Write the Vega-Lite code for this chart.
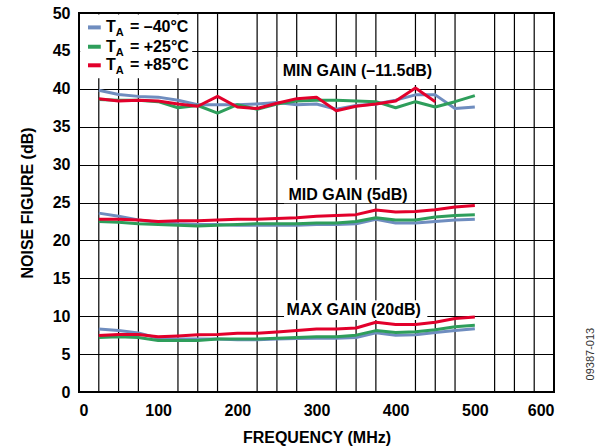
{
  "$schema": "https://vega.github.io/schema/vega-lite/v6.json",
  "width": 475,
  "height": 379,
  "autosize": {"type": "none"},
  "padding": {"left": 79, "top": 13, "right": 51, "bottom": 56},
  "background": "#ffffff",
  "config": {
    "font": "Liberation Sans",
    "view": {"stroke": "#000000", "strokeWidth": 2},
    "axis": {
      "labelFont": "Liberation Sans",
      "labelFontWeight": "bold",
      "labelFontSize": 16,
      "labelColor": "#000000",
      "titleFont": "Liberation Sans",
      "titleFontWeight": "bold",
      "titleFontSize": 16,
      "titleColor": "#000000",
      "gridColor": "#000000",
      "gridWidth": 1.2,
      "gridOpacity": 1,
      "domain": false,
      "ticks": false
    },
    "text": {"font": "Liberation Sans", "fontWeight": "bold", "fontSize": 16, "color": "#000000", "baseline": "middle"}
  },
  "resolve": {"axis": {"x": "independent", "y": "independent"}},
  "datasets": {
    "gridlines": [
      {"f": 25}, {"f": 50}, {"f": 75}, {"f": 125}, {"f": 150}, {"f": 175},
      {"f": 225}, {"f": 250}, {"f": 275}, {"f": 325}, {"f": 350}, {"f": 375},
      {"f": 425}, {"f": 450}, {"f": 475}, {"f": 525}, {"f": 550}, {"f": 575}
    ],
    "nf": [
      {"gain": "min", "temp": "-40", "f": 25, "nf": 39.8},
      {"gain": "min", "temp": "-40", "f": 50, "nf": 39.25},
      {"gain": "min", "temp": "-40", "f": 75, "nf": 39.0},
      {"gain": "min", "temp": "-40", "f": 100, "nf": 38.9},
      {"gain": "min", "temp": "-40", "f": 125, "nf": 38.5},
      {"gain": "min", "temp": "-40", "f": 150, "nf": 37.9},
      {"gain": "min", "temp": "-40", "f": 175, "nf": 37.9},
      {"gain": "min", "temp": "-40", "f": 200, "nf": 37.9},
      {"gain": "min", "temp": "-40", "f": 225, "nf": 38.0},
      {"gain": "min", "temp": "-40", "f": 250, "nf": 38.2},
      {"gain": "min", "temp": "-40", "f": 275, "nf": 37.9},
      {"gain": "min", "temp": "-40", "f": 300, "nf": 38.0},
      {"gain": "min", "temp": "-40", "f": 325, "nf": 37.3},
      {"gain": "min", "temp": "-40", "f": 350, "nf": 37.8},
      {"gain": "min", "temp": "-40", "f": 375, "nf": 38.0},
      {"gain": "min", "temp": "-40", "f": 400, "nf": 38.5},
      {"gain": "min", "temp": "-40", "f": 425, "nf": 39.2},
      {"gain": "min", "temp": "-40", "f": 450, "nf": 39.2},
      {"gain": "min", "temp": "-40", "f": 475, "nf": 37.4},
      {"gain": "min", "temp": "-40", "f": 500, "nf": 37.6},

      {"gain": "min", "temp": "+25", "f": 25, "nf": 38.6},
      {"gain": "min", "temp": "+25", "f": 50, "nf": 38.5},
      {"gain": "min", "temp": "+25", "f": 75, "nf": 38.5},
      {"gain": "min", "temp": "+25", "f": 100, "nf": 38.3},
      {"gain": "min", "temp": "+25", "f": 125, "nf": 37.5},
      {"gain": "min", "temp": "+25", "f": 150, "nf": 37.8},
      {"gain": "min", "temp": "+25", "f": 175, "nf": 36.8},
      {"gain": "min", "temp": "+25", "f": 200, "nf": 37.9},
      {"gain": "min", "temp": "+25", "f": 225, "nf": 37.3},
      {"gain": "min", "temp": "+25", "f": 250, "nf": 38.0},
      {"gain": "min", "temp": "+25", "f": 275, "nf": 38.4},
      {"gain": "min", "temp": "+25", "f": 300, "nf": 38.5},
      {"gain": "min", "temp": "+25", "f": 325, "nf": 38.5},
      {"gain": "min", "temp": "+25", "f": 350, "nf": 38.4},
      {"gain": "min", "temp": "+25", "f": 375, "nf": 38.3},
      {"gain": "min", "temp": "+25", "f": 400, "nf": 37.5},
      {"gain": "min", "temp": "+25", "f": 425, "nf": 38.3},
      {"gain": "min", "temp": "+25", "f": 450, "nf": 37.6},
      {"gain": "min", "temp": "+25", "f": 475, "nf": 38.3},
      {"gain": "min", "temp": "+25", "f": 500, "nf": 39.1},

      {"gain": "min", "temp": "+85", "f": 25, "nf": 38.7},
      {"gain": "min", "temp": "+85", "f": 50, "nf": 38.4},
      {"gain": "min", "temp": "+85", "f": 75, "nf": 38.5},
      {"gain": "min", "temp": "+85", "f": 100, "nf": 38.4},
      {"gain": "min", "temp": "+85", "f": 125, "nf": 38.0},
      {"gain": "min", "temp": "+85", "f": 150, "nf": 37.7},
      {"gain": "min", "temp": "+85", "f": 175, "nf": 39.0},
      {"gain": "min", "temp": "+85", "f": 200, "nf": 37.6},
      {"gain": "min", "temp": "+85", "f": 225, "nf": 37.4},
      {"gain": "min", "temp": "+85", "f": 250, "nf": 38.1},
      {"gain": "min", "temp": "+85", "f": 275, "nf": 38.7},
      {"gain": "min", "temp": "+85", "f": 300, "nf": 38.9},
      {"gain": "min", "temp": "+85", "f": 325, "nf": 37.1},
      {"gain": "min", "temp": "+85", "f": 350, "nf": 37.7},
      {"gain": "min", "temp": "+85", "f": 375, "nf": 38.0},
      {"gain": "min", "temp": "+85", "f": 400, "nf": 38.4},
      {"gain": "min", "temp": "+85", "f": 425, "nf": 40.1},
      {"gain": "min", "temp": "+85", "f": 450, "nf": 38.3},

      {"gain": "mid", "temp": "-40", "f": 25, "nf": 23.6},
      {"gain": "mid", "temp": "-40", "f": 50, "nf": 23.2},
      {"gain": "mid", "temp": "-40", "f": 75, "nf": 22.7},
      {"gain": "mid", "temp": "-40", "f": 100, "nf": 22.4},
      {"gain": "mid", "temp": "-40", "f": 125, "nf": 22.2},
      {"gain": "mid", "temp": "-40", "f": 150, "nf": 22.1},
      {"gain": "mid", "temp": "-40", "f": 175, "nf": 22.1},
      {"gain": "mid", "temp": "-40", "f": 200, "nf": 22.0},
      {"gain": "mid", "temp": "-40", "f": 225, "nf": 22.0},
      {"gain": "mid", "temp": "-40", "f": 250, "nf": 22.0},
      {"gain": "mid", "temp": "-40", "f": 275, "nf": 22.0},
      {"gain": "mid", "temp": "-40", "f": 300, "nf": 22.1},
      {"gain": "mid", "temp": "-40", "f": 325, "nf": 22.1},
      {"gain": "mid", "temp": "-40", "f": 350, "nf": 22.2},
      {"gain": "mid", "temp": "-40", "f": 375, "nf": 22.8},
      {"gain": "mid", "temp": "-40", "f": 400, "nf": 22.3},
      {"gain": "mid", "temp": "-40", "f": 425, "nf": 22.3},
      {"gain": "mid", "temp": "-40", "f": 450, "nf": 22.5},
      {"gain": "mid", "temp": "-40", "f": 475, "nf": 22.7},
      {"gain": "mid", "temp": "-40", "f": 500, "nf": 22.8},

      {"gain": "mid", "temp": "+25", "f": 25, "nf": 22.5},
      {"gain": "mid", "temp": "+25", "f": 50, "nf": 22.4},
      {"gain": "mid", "temp": "+25", "f": 75, "nf": 22.2},
      {"gain": "mid", "temp": "+25", "f": 100, "nf": 22.1},
      {"gain": "mid", "temp": "+25", "f": 125, "nf": 22.0},
      {"gain": "mid", "temp": "+25", "f": 150, "nf": 21.9},
      {"gain": "mid", "temp": "+25", "f": 175, "nf": 22.0},
      {"gain": "mid", "temp": "+25", "f": 200, "nf": 22.1},
      {"gain": "mid", "temp": "+25", "f": 225, "nf": 22.2},
      {"gain": "mid", "temp": "+25", "f": 250, "nf": 22.2},
      {"gain": "mid", "temp": "+25", "f": 275, "nf": 22.2},
      {"gain": "mid", "temp": "+25", "f": 300, "nf": 22.3},
      {"gain": "mid", "temp": "+25", "f": 325, "nf": 22.3},
      {"gain": "mid", "temp": "+25", "f": 350, "nf": 22.5},
      {"gain": "mid", "temp": "+25", "f": 375, "nf": 23.0},
      {"gain": "mid", "temp": "+25", "f": 400, "nf": 22.7},
      {"gain": "mid", "temp": "+25", "f": 425, "nf": 22.7},
      {"gain": "mid", "temp": "+25", "f": 450, "nf": 23.1},
      {"gain": "mid", "temp": "+25", "f": 475, "nf": 23.3},
      {"gain": "mid", "temp": "+25", "f": 500, "nf": 23.4},

      {"gain": "mid", "temp": "+85", "f": 25, "nf": 22.8},
      {"gain": "mid", "temp": "+85", "f": 50, "nf": 22.8},
      {"gain": "mid", "temp": "+85", "f": 75, "nf": 22.7},
      {"gain": "mid", "temp": "+85", "f": 100, "nf": 22.5},
      {"gain": "mid", "temp": "+85", "f": 125, "nf": 22.6},
      {"gain": "mid", "temp": "+85", "f": 150, "nf": 22.6},
      {"gain": "mid", "temp": "+85", "f": 175, "nf": 22.7},
      {"gain": "mid", "temp": "+85", "f": 200, "nf": 22.8},
      {"gain": "mid", "temp": "+85", "f": 225, "nf": 22.8},
      {"gain": "mid", "temp": "+85", "f": 250, "nf": 22.9},
      {"gain": "mid", "temp": "+85", "f": 275, "nf": 23.0},
      {"gain": "mid", "temp": "+85", "f": 300, "nf": 23.2},
      {"gain": "mid", "temp": "+85", "f": 325, "nf": 23.3},
      {"gain": "mid", "temp": "+85", "f": 350, "nf": 23.4},
      {"gain": "mid", "temp": "+85", "f": 375, "nf": 24.0},
      {"gain": "mid", "temp": "+85", "f": 400, "nf": 23.75},
      {"gain": "mid", "temp": "+85", "f": 425, "nf": 23.8},
      {"gain": "mid", "temp": "+85", "f": 450, "nf": 24.05},
      {"gain": "mid", "temp": "+85", "f": 475, "nf": 24.4},
      {"gain": "mid", "temp": "+85", "f": 500, "nf": 24.6},

      {"gain": "max", "temp": "-40", "f": 25, "nf": 8.3},
      {"gain": "max", "temp": "-40", "f": 50, "nf": 8.1},
      {"gain": "max", "temp": "-40", "f": 75, "nf": 7.8},
      {"gain": "max", "temp": "-40", "f": 100, "nf": 7.1},
      {"gain": "max", "temp": "-40", "f": 125, "nf": 7.0},
      {"gain": "max", "temp": "-40", "f": 150, "nf": 7.0},
      {"gain": "max", "temp": "-40", "f": 175, "nf": 7.0},
      {"gain": "max", "temp": "-40", "f": 200, "nf": 6.9},
      {"gain": "max", "temp": "-40", "f": 225, "nf": 6.9},
      {"gain": "max", "temp": "-40", "f": 250, "nf": 7.0},
      {"gain": "max", "temp": "-40", "f": 275, "nf": 7.05},
      {"gain": "max", "temp": "-40", "f": 300, "nf": 7.1},
      {"gain": "max", "temp": "-40", "f": 325, "nf": 7.1},
      {"gain": "max", "temp": "-40", "f": 350, "nf": 7.2},
      {"gain": "max", "temp": "-40", "f": 375, "nf": 7.8},
      {"gain": "max", "temp": "-40", "f": 400, "nf": 7.5},
      {"gain": "max", "temp": "-40", "f": 425, "nf": 7.55},
      {"gain": "max", "temp": "-40", "f": 450, "nf": 7.85},
      {"gain": "max", "temp": "-40", "f": 475, "nf": 8.1},
      {"gain": "max", "temp": "-40", "f": 500, "nf": 8.35},

      {"gain": "max", "temp": "+25", "f": 25, "nf": 7.2},
      {"gain": "max", "temp": "+25", "f": 50, "nf": 7.3},
      {"gain": "max", "temp": "+25", "f": 75, "nf": 7.2},
      {"gain": "max", "temp": "+25", "f": 100, "nf": 6.8},
      {"gain": "max", "temp": "+25", "f": 125, "nf": 6.8},
      {"gain": "max", "temp": "+25", "f": 150, "nf": 6.8},
      {"gain": "max", "temp": "+25", "f": 175, "nf": 7.0},
      {"gain": "max", "temp": "+25", "f": 200, "nf": 7.0},
      {"gain": "max", "temp": "+25", "f": 225, "nf": 7.0},
      {"gain": "max", "temp": "+25", "f": 250, "nf": 7.1},
      {"gain": "max", "temp": "+25", "f": 275, "nf": 7.2},
      {"gain": "max", "temp": "+25", "f": 300, "nf": 7.3},
      {"gain": "max", "temp": "+25", "f": 325, "nf": 7.3},
      {"gain": "max", "temp": "+25", "f": 350, "nf": 7.5},
      {"gain": "max", "temp": "+25", "f": 375, "nf": 8.1},
      {"gain": "max", "temp": "+25", "f": 400, "nf": 7.85},
      {"gain": "max", "temp": "+25", "f": 425, "nf": 7.95},
      {"gain": "max", "temp": "+25", "f": 450, "nf": 8.2},
      {"gain": "max", "temp": "+25", "f": 475, "nf": 8.6},
      {"gain": "max", "temp": "+25", "f": 500, "nf": 8.8},

      {"gain": "max", "temp": "+85", "f": 25, "nf": 7.45},
      {"gain": "max", "temp": "+85", "f": 50, "nf": 7.6},
      {"gain": "max", "temp": "+85", "f": 75, "nf": 7.6},
      {"gain": "max", "temp": "+85", "f": 100, "nf": 7.3},
      {"gain": "max", "temp": "+85", "f": 125, "nf": 7.4},
      {"gain": "max", "temp": "+85", "f": 150, "nf": 7.55},
      {"gain": "max", "temp": "+85", "f": 175, "nf": 7.6},
      {"gain": "max", "temp": "+85", "f": 200, "nf": 7.75},
      {"gain": "max", "temp": "+85", "f": 225, "nf": 7.75},
      {"gain": "max", "temp": "+85", "f": 250, "nf": 7.9},
      {"gain": "max", "temp": "+85", "f": 275, "nf": 8.1},
      {"gain": "max", "temp": "+85", "f": 300, "nf": 8.3},
      {"gain": "max", "temp": "+85", "f": 325, "nf": 8.3},
      {"gain": "max", "temp": "+85", "f": 350, "nf": 8.45},
      {"gain": "max", "temp": "+85", "f": 375, "nf": 9.2},
      {"gain": "max", "temp": "+85", "f": 400, "nf": 8.9},
      {"gain": "max", "temp": "+85", "f": 425, "nf": 8.9},
      {"gain": "max", "temp": "+85", "f": 450, "nf": 9.2},
      {"gain": "max", "temp": "+85", "f": 475, "nf": 9.7},
      {"gain": "max", "temp": "+85", "f": 500, "nf": 9.9}
    ],
    "one": [{}]
  },
  "layer": [
    {
      "data": {"name": "gridlines"},
      "mark": {"type": "rule", "color": "#000000", "strokeWidth": 1.2},
      "encoding": {
        "x": {"field": "f", "type": "quantitative", "axis": null}
      }
    },
    {
      "data": {"name": "nf"},
      "mark": {"type": "line", "strokeWidth": 3, "strokeJoin": "round", "strokeCap": "butt"},
      "encoding": {
        "x": {
          "field": "f",
          "type": "quantitative",
          "scale": {"domain": [0, 600], "nice": false},
          "axis": {
            "title": "FREQUENCY (MHz)",
            "values": [0, 100, 200, 300, 400, 500, 600],
            "labelPadding": 10,
            "titleY": 45,
            "titleBaseline": "middle"
          }
        },
        "y": {
          "field": "nf",
          "type": "quantitative",
          "scale": {"domain": [0, 50], "nice": false},
          "axis": {
            "title": "NOISE FIGURE (dB)",
            "values": [0, 5, 10, 15, 20, 25, 30, 35, 40, 45, 50],
            "labelPadding": 9,
            "titleX": -52,
            "titleY": 189.5,
            "titleBaseline": "middle"
          }
        },
        "color": {
          "field": "temp",
          "type": "nominal",
          "scale": {"domain": ["-40", "+25", "+85"], "range": ["#6F8DBF", "#2E9E5B", "#E2002B"]},
          "legend": null
        },
        "detail": {"field": "gain"}
      }
    },
    {
      "data": {"name": "one"},
      "mark": {"type": "rect", "fill": "#ffffff"},
      "encoding": {
        "x": {"datum": 1.5, "type": "quantitative", "axis": null},
        "x2": {"datum": 143},
        "y": {"datum": 41.4, "type": "quantitative", "axis": null},
        "y2": {"datum": 49.8}
      }
    },
    {
      "data": {"name": "one"},
      "mark": {"type": "rect", "fill": "#ffffff"},
      "encoding": {
        "x": {"datum": 251, "type": "quantitative", "axis": null},
        "x2": {"datum": 452},
        "y": {"datum": 40.5, "type": "quantitative", "axis": null},
        "y2": {"datum": 44.2}
      }
    },
    {
      "data": {"name": "one"},
      "mark": {"type": "rect", "fill": "#ffffff"},
      "encoding": {
        "x": {"datum": 259, "type": "quantitative", "axis": null},
        "x2": {"datum": 422},
        "y": {"datum": 24.9, "type": "quantitative", "axis": null},
        "y2": {"datum": 28.0}
      }
    },
    {
      "data": {"name": "one"},
      "mark": {"type": "rect", "fill": "#ffffff"},
      "encoding": {
        "x": {"datum": 259, "type": "quantitative", "axis": null},
        "x2": {"datum": 440},
        "y": {"datum": 9.5, "type": "quantitative", "axis": null},
        "y2": {"datum": 12.1}
      }
    },
    {
      "data": {"name": "one"},
      "mark": {"type": "text", "align": "center"},
      "encoding": {
        "x": {"datum": 351.7, "type": "quantitative", "axis": null},
        "y": {"datum": 42.3, "type": "quantitative", "axis": null},
        "text": {"value": "MIN GAIN (–11.5dB)"}
      }
    },
    {
      "data": {"name": "one"},
      "mark": {"type": "text", "align": "center"},
      "encoding": {
        "x": {"datum": 339.8, "type": "quantitative", "axis": null},
        "y": {"datum": 26.0, "type": "quantitative", "axis": null},
        "text": {"value": "MID GAIN (5dB)"}
      }
    },
    {
      "data": {"name": "one"},
      "mark": {"type": "text", "align": "center"},
      "encoding": {
        "x": {"datum": 347, "type": "quantitative", "axis": null},
        "y": {"datum": 10.8, "type": "quantitative", "axis": null},
        "text": {"value": "MAX GAIN (20dB)"}
      }
    },
    {
      "data": {"name": "one"},
      "mark": {"type": "rule", "strokeWidth": 4, "color": "#6F8DBF"},
      "encoding": {
        "x": {"datum": 11.4, "type": "quantitative", "axis": null},
        "x2": {"datum": 27.5},
        "y": {"datum": 48.1, "type": "quantitative", "axis": null}
      }
    },
    {
      "data": {"name": "one"},
      "mark": {"type": "rule", "strokeWidth": 4, "color": "#2E9E5B"},
      "encoding": {
        "x": {"datum": 11.4, "type": "quantitative", "axis": null},
        "x2": {"datum": 27.5},
        "y": {"datum": 45.55, "type": "quantitative", "axis": null}
      }
    },
    {
      "data": {"name": "one"},
      "mark": {"type": "rule", "strokeWidth": 4, "color": "#E2002B"},
      "encoding": {
        "x": {"datum": 11.4, "type": "quantitative", "axis": null},
        "x2": {"datum": 27.5},
        "y": {"datum": 43.1, "type": "quantitative", "axis": null}
      }
    },
    {
      "data": {"name": "one"},
      "mark": {"type": "text", "align": "left"},
      "encoding": {
        "x": {"datum": 34, "type": "quantitative", "axis": null},
        "y": {"datum": 48.1, "type": "quantitative", "axis": null},
        "text": {"value": "T"}
      }
    },
    {
      "data": {"name": "one"},
      "mark": {"type": "text", "align": "left"},
      "encoding": {
        "x": {"datum": 34, "type": "quantitative", "axis": null},
        "y": {"datum": 45.55, "type": "quantitative", "axis": null},
        "text": {"value": "T"}
      }
    },
    {
      "data": {"name": "one"},
      "mark": {"type": "text", "align": "left"},
      "encoding": {
        "x": {"datum": 34, "type": "quantitative", "axis": null},
        "y": {"datum": 43.1, "type": "quantitative", "axis": null},
        "text": {"value": "T"}
      }
    },
    {
      "data": {"name": "one"},
      "mark": {"type": "text", "align": "left", "fontSize": 11, "dy": 6},
      "encoding": {
        "x": {"datum": 46.5, "type": "quantitative", "axis": null},
        "y": {"datum": 48.1, "type": "quantitative", "axis": null},
        "text": {"value": "A"}
      }
    },
    {
      "data": {"name": "one"},
      "mark": {"type": "text", "align": "left", "fontSize": 11, "dy": 6},
      "encoding": {
        "x": {"datum": 46.5, "type": "quantitative", "axis": null},
        "y": {"datum": 45.55, "type": "quantitative", "axis": null},
        "text": {"value": "A"}
      }
    },
    {
      "data": {"name": "one"},
      "mark": {"type": "text", "align": "left", "fontSize": 11, "dy": 6},
      "encoding": {
        "x": {"datum": 46.5, "type": "quantitative", "axis": null},
        "y": {"datum": 43.1, "type": "quantitative", "axis": null},
        "text": {"value": "A"}
      }
    },
    {
      "data": {"name": "one"},
      "mark": {"type": "text", "align": "left"},
      "encoding": {
        "x": {"datum": 64.4, "type": "quantitative", "axis": null},
        "y": {"datum": 48.1, "type": "quantitative", "axis": null},
        "text": {"value": "= –40°C"}
      }
    },
    {
      "data": {"name": "one"},
      "mark": {"type": "text", "align": "left"},
      "encoding": {
        "x": {"datum": 64.4, "type": "quantitative", "axis": null},
        "y": {"datum": 45.55, "type": "quantitative", "axis": null},
        "text": {"value": "= +25°C"}
      }
    },
    {
      "data": {"name": "one"},
      "mark": {"type": "text", "align": "left"},
      "encoding": {
        "x": {"datum": 64.4, "type": "quantitative", "axis": null},
        "y": {"datum": 43.1, "type": "quantitative", "axis": null},
        "text": {"value": "= +85°C"}
      }
    },
    {
      "data": {"name": "one"},
      "mark": {"type": "text", "fontWeight": "normal", "fontSize": 11, "angle": 270, "align": "center", "color": "#333333", "dy": 37},
      "encoding": {
        "x": {"datum": 600, "type": "quantitative", "axis": null},
        "y": {"datum": 5, "type": "quantitative", "axis": null},
        "text": {"value": "09387-013"}
      }
    }
  ]
}
